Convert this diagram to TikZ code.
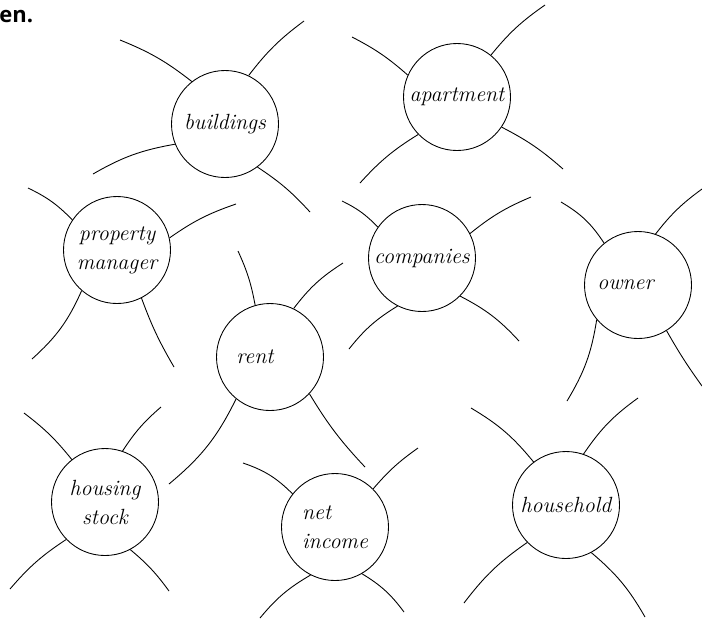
\documentclass[tikz,border=0pt]{standalone}
\usepackage{fontspec}
\usepackage{tikz}
\newfontfamily\headfont{Open Sans}

\begin{document}
\begin{tikzpicture}[
    blob/.style={circle,draw,line width=0.5pt,minimum size=2.14cm,inner sep=0pt,
                 font=\fontsize{12.5}{16.5}\selectfont\itshape,align=center},
    spoke/.style={line width=0.5pt}]
    \useasboundingbox (0,0) rectangle (14.04,-12.40);
    \node[anchor=base west,inner sep=0pt,font=\headfont\bfseries\fontsize{12.5}{14}\selectfont] (head) at (-0.02,-0.44) {en.};
    % the word circles
    \node[blob] (bld)  at (4.50,-2.48)  {buildings};
    \node[blob] (apt)  at (9.14,-1.94)  {apartment};
    \node[blob] (pm)   at (2.34,-5.00)  {property\\manager};
    \node[blob] (rent) at (5.40,-7.14)  {rent\hspace*{0.6cm}};
    \node[blob] (comp) at (8.44,-5.16)  {companies};
    \node[blob] (own)  at (12.76,-5.70) {owner\hspace*{0.5cm}};
    \node[blob] (hs)   at (2.10,-10.04) {housing\\stock};
    \node[blob,align=left] (ni) at (6.70,-10.54) {net\\income};
    \node[blob] (hh)   at (11.32,-10.10) {household};
    % loose spokes: circle/anchor/free end/bend
    \foreach \c/\a/\x/\y/\b in {
        bld/128/2.40/-0.80/-8, bld/64/6.08/-0.42/8, bld/202/1.86/-3.48/-10, bld/307/6.20/-4.24/7,
        apt/156/7.04/-0.74/-7, apt/51/10.90/-0.10/8, apt/224/7.20/-3.66/-8, apt/326/11.26/-3.38/7,
        pm/146/0.56/-3.76/-10, pm/13/4.72/-4.08/8, pm/229/0.64/-7.18/12, pm/297/3.48/-7.34/-5,
        rent/106/4.76/-5.02/-7, rent/64/6.86/-5.26/10, rent/231/3.38/-9.68/12, rent/317/7.30/-9.34/-6,
        comp/145/6.84/-4.02/-10, comp/27/10.62/-3.94/8, comp/243/6.98/-6.98/-10, comp/315/10.38/-6.82/10,
        own/129/11.22/-4.04/-13, own/71/14.04/-3.78/8, own/220/11.34/-8.02/11, own/302/14.04/-7.72/-3,
        hs/128/0.48/-8.26/-7, hs/71/3.22/-8.14/8, hs/224/0.20/-11.78/-8, hs/298/3.38/-11.82/7,
        ni/142/4.86/-9.26/-13, ni/45/8.36/-8.96/7, ni/243/5.20/-12.36/-10, ni/300/8.08/-12.24/11,
        hh/127/9.42/-8.16/-10, hh/71/12.76/-7.96/10, hh/224/9.28/-12.06/-9, hh/298/12.90/-12.34/10}
    {
        \coordinate (\c\a) at (\x,\y);
        \draw[spoke] (\c.\a) to[bend left=\b] (\c\a);
    }
\end{tikzpicture}
\end{document}
